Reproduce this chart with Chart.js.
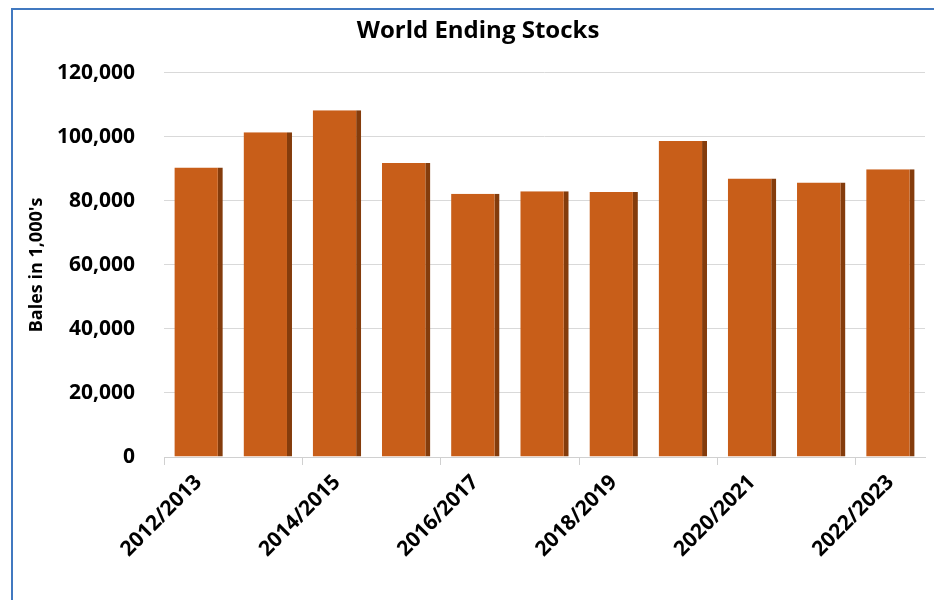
<!DOCTYPE html>
<html>
<head>
<meta charset="utf-8">
<script src="https://cdn.jsdelivr.net/npm/chart.js@4"></script>
<style>
  body { margin: 0; background: #fff; }
  #wrap { position: relative; width: 934px; height: 600px; }
  #graph { position: absolute; left: 0; top: 0; }
  #frame {
    position: absolute; left: 11px; top: 8px; right: -4px; bottom: -4px;
    border-left: 2px solid #4179C0; border-top: 2px solid #4179C0;
    pointer-events: none;
  }
</style>
</head>
<body>
<div id="wrap">
  <canvas id="graph" width="934" height="600"></canvas>
  <div id="frame"></div>
</div>
<script>
const seasons = ["2012/2013", "2013/2014", "2014/2015", "2015/2016", "2016/2017", "2017/2018",
                 "2018/2019", "2019/2020", "2020/2021", "2021/2022", "2022/2023"];
const endingStocks = [90400, 101400, 108300, 91800, 82200, 83000, 82800, 98700, 87000, 85700, 89900];
const yTicks = [0, 20000, 40000, 60000, 80000, 100000, 120000];

const font = "'Open Sans', Lato, sans-serif";

var ctx = document.getElementById('graph').getContext('2d');

var myGraph = new Chart(ctx, {
    type: 'bar',
    data: {
        labels: seasons,
        datasets: [{
            label: 'World Ending Stocks',
            data: endingStocks,
            backgroundColor: '#C85E19',
            borderColor: '#843C0C',
            borderWidth: { top: 0, right: 5, bottom: 0, left: 0 },
            borderSkipped: false,
            categoryPercentage: 1,
            barPercentage: 0.7
        }]
    },
    options: {
        responsive: false,
        animation: false,
        layout: {
            padding: { left: 22, right: 0, top: 0, bottom: 0 }
        },
        plugins: {
            legend: { display: false },
            tooltip: { enabled: false },
            title: {
                display: true,
                text: 'World Ending Stocks',
                color: '#000',
                font: { family: font, size: 24, weight: 'bold' },
                padding: { top: 17, bottom: 27 }
            }
        },
        scales: {
            x: {
                grid: {
                    drawOnChartArea: false,
                    tickLength: 8,
                    color: c => (c.index % 2 === 0 ? '#d0d0d0' : 'rgba(0,0,0,0)')
                },
                border: { color: '#d0d0d0' },
                ticks: {
                    autoSkip: false,
                    maxRotation: 45,
                    minRotation: 45,
                    padding: 5,
                    color: '#000',
                    font: { family: font, size: 21, weight: 'bold' },
                    callback: function (v, i) { return i % 2 === 0 ? seasons[i] : ''; }
                },
                afterFit: s => { s.height = 143; s.paddingRight = 9; }
            },
            y: {
                min: 0,
                max: 120000,
                afterBuildTicks: s => { s.ticks = yTicks.map(v => ({ value: v })); },
                grid: { color: '#d9d9d9', drawTicks: false },
                border: { display: false },
                ticks: {
                    padding: 29,
                    color: '#000',
                    font: { family: font, size: 21, weight: 'bold' },
                    callback: v => v.toLocaleString('en-US')
                },
                title: {
                    display: true,
                    text: "Bales in 1,000's",
                    color: '#000',
                    font: { family: font, size: 18, weight: 'bold' },
                    padding: { top: 4, bottom: 0 }
                },
                afterFit: s => { s.width = 142; }
            }
        }
    }
});
</script>
</body>
</html>
